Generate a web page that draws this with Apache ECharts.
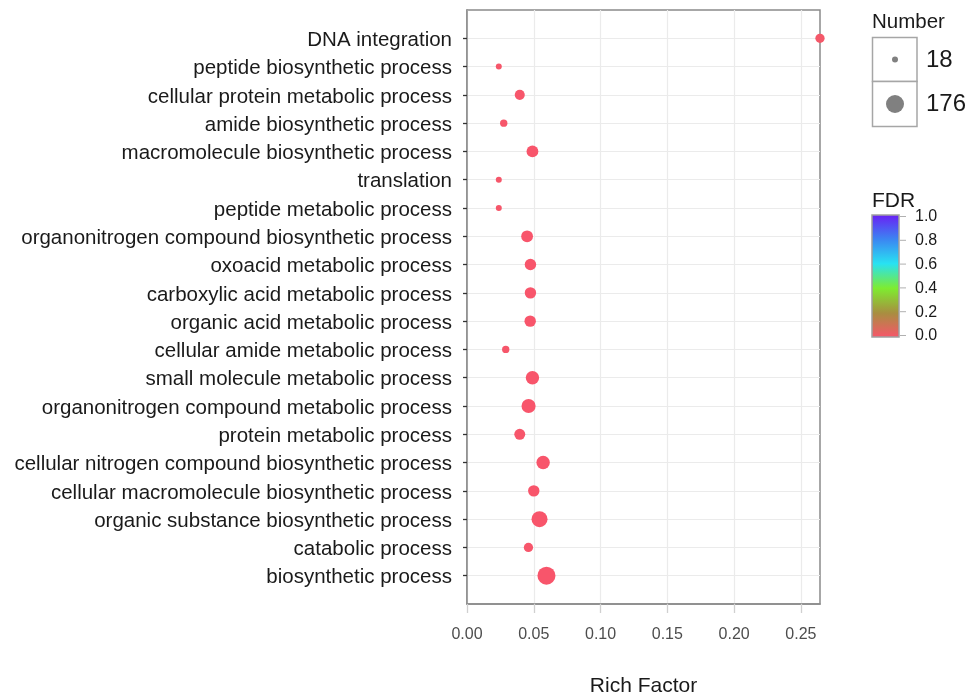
<!DOCTYPE html>
<html><head><meta charset="utf-8">
<script src="https://cdn.jsdelivr.net/npm/echarts@6/dist/echarts.min.js"></script>
<style>html,body{margin:0;padding:0;background:#fff}#c{width:971px;height:699px}</style>
</head><body><div id="c"></div>
<script>
// ---- data (top to bottom as shown) ----
const terms = [
  "DNA integration",
  "peptide biosynthetic process",
  "cellular protein metabolic process",
  "amide biosynthetic process",
  "macromolecule biosynthetic process",
  "translation",
  "peptide metabolic process",
  "organonitrogen compound biosynthetic process",
  "oxoacid metabolic process",
  "carboxylic acid metabolic process",
  "organic acid metabolic process",
  "cellular amide metabolic process",
  "small molecule metabolic process",
  "organonitrogen compound metabolic process",
  "protein metabolic process",
  "cellular nitrogen compound biosynthetic process",
  "cellular macromolecule biosynthetic process",
  "organic substance biosynthetic process",
  "catabolic process",
  "biosynthetic process"
];
const richFactor = [0.2643, 0.0238, 0.0395, 0.0275, 0.0490, 0.0238, 0.0238, 0.0450, 0.0475, 0.0475,
                    0.0473, 0.0290, 0.0490, 0.0461, 0.0395, 0.0570, 0.0500, 0.0543, 0.0460, 0.0595];
const geneNumber = [30, 18, 36, 20, 55, 18, 18, 55, 50, 50,
                    50, 20, 78, 90, 45, 78, 50, 128, 30, 176];
const fdr = [0.01, 0.005, 0.002, 0.004, 0.001, 0.005, 0.005, 0.001, 0.001, 0.001,
             0.001, 0.004, 0.001, 0.001, 0.002, 0.001, 0.001, 0.001, 0.002, 0.001];
const xTicks = [0, 0.05, 0.10, 0.15, 0.20, 0.25];
const sizeBreaks = [18, 176];
const fdrTicks = [0, 0.2, 0.4, 0.6, 0.8, 1.0];
const fdrColors = ['#F8556B', '#A88E40', '#7EEC30', '#28E2F2', '#3C84F2', '#6A1EF4'];

const FONT = 'Arial, "Liberation Sans", sans-serif';
const sizeMin = Math.min.apply(null, sizeBreaks), sizeMax = Math.max.apply(null, sizeBreaks);
function dotSize(n) { return 6 + 12 * Math.sqrt((n - sizeMin) / (sizeMax - sizeMin)); }

const yCats = [' '].concat(terms.slice().reverse(), ['  ']);
const inner = (i) => i > 0 && i < yCats.length - 1;
const seriesData = terms.map((t, i) => [richFactor[i], t, geneNumber[i], fdr[i]]);

// legend geometry
const LX = 872;
const barTop = 215, barBot = 337, barH = barBot - barTop;
const fdrY = v => barBot - 1.5 - v * (barH - 3);

const graphics = [];
graphics.push({ type: 'text', x: LX, y: 22, style: { text: 'Number', font: '20.5px ' + FONT, fill: '#1a1a1a', verticalAlign: 'middle' } });
const boxY = [37.5, 81.5], boxH = [44, 45];
sizeBreaks.forEach((n, k) => {
  graphics.push({ type: 'rect', shape: { x: LX + 0.5, y: boxY[k], width: 44.5, height: boxH[k] },
    style: { fill: '#fff', stroke: '#a6a6a6', lineWidth: 1.5 } });
  const cy = boxY[k] + boxH[k] / 2;
  graphics.push({ type: 'circle', shape: { cx: LX + 23, cy: cy, r: dotSize(n) / 2 }, style: { fill: '#808080' } });
  graphics.push({ type: 'text', x: 926, y: cy + 0.5, style: { text: String(n), font: '24px ' + FONT, fill: '#1a1a1a', verticalAlign: 'middle' } });
});
graphics.push({ type: 'text', x: LX, y: 201, style: { text: 'FDR', font: '21px ' + FONT, fill: '#1a1a1a', verticalAlign: 'middle' } });
graphics.push({ type: 'rect', shape: { x: LX, y: barTop, width: 27, height: barH },
  style: { fill: { type: 'linear', x: 0, y: 1, x2: 0, y2: 0,
    colorStops: fdrTicks.map((v, k) => ({ offset: v, color: fdrColors[k] })) },
    stroke: '#a0a0a0', lineWidth: 1.5 } });
fdrTicks.forEach(v => {
  const y = fdrY(v);
  graphics.push({ type: 'line', shape: { x1: LX + 28, y1: y, x2: LX + 34, y2: y }, style: { stroke: '#b0b0b0', lineWidth: 1 } });
  graphics.push({ type: 'text', x: LX + 43, y: y + 0.5, style: { text: v.toFixed(1), font: '16px ' + FONT, fill: '#1a1a1a', verticalAlign: 'middle' } });
});

const chart = echarts.init(document.getElementById('c'), null, { renderer: 'canvas' });
const option = {
  backgroundColor: '#fff',
  animation: false,
  grid: { left: 467, top: 10, right: 151, bottom: 95, show: true, borderColor: '#8a8a8a', borderWidth: 1.5,
          containLabel: false, outerBoundsMode: 'none' },
  xAxis: {
    type: 'value', min: 0, max: richFactor[0], interval: 0.05,
    name: 'Rich Factor', nameLocation: 'middle', nameGap: 72,
    nameTextStyle: { fontSize: 21, color: '#1a1a1a', fontFamily: FONT },
    axisLine: { show: true, lineStyle: { color: '#8a8a8a', width: 1.5 } },
    axisTick: { show: true, length: 9, customValues: xTicks, lineStyle: { color: '#d0d0d0', width: 1.3 } },
    axisLabel: { customValues: xTicks, formatter: v => v.toFixed(2), fontSize: 16, color: '#4d4d4d',
                 fontFamily: FONT, margin: 23 },
    splitLine: { show: true, lineStyle: { color: '#ebebeb', width: 1.2 } }
  },
  yAxis: {
    type: 'category', data: yCats, boundaryGap: false,
    axisLine: { show: true, lineStyle: { color: '#8a8a8a', width: 1.5 } },
    axisTick: { show: true, length: 4, interval: inner, lineStyle: { color: '#333', width: 1.3 } },
    axisLabel: { interval: 0, fontSize: 20.5, color: '#1a1a1a', fontFamily: FONT, margin: 15,
                 verticalAlign: 'top', lineHeight: 4 },
    splitLine: { show: true, interval: inner, lineStyle: { color: '#ebebeb', width: 1.2 } }
  },
  visualMap: {
    show: false, type: 'continuous', min: 0, max: 1, dimension: 3, seriesIndex: 0,
    inRange: { color: fdrColors }
  },
  series: [{
    type: 'scatter', data: seriesData, clip: false,
    symbol: 'circle',
    symbolSize: v => dotSize(v[2]),
    itemStyle: { opacity: 1 }
  }],
  graphic: graphics
};
chart.setOption(option);
</script></body></html>
